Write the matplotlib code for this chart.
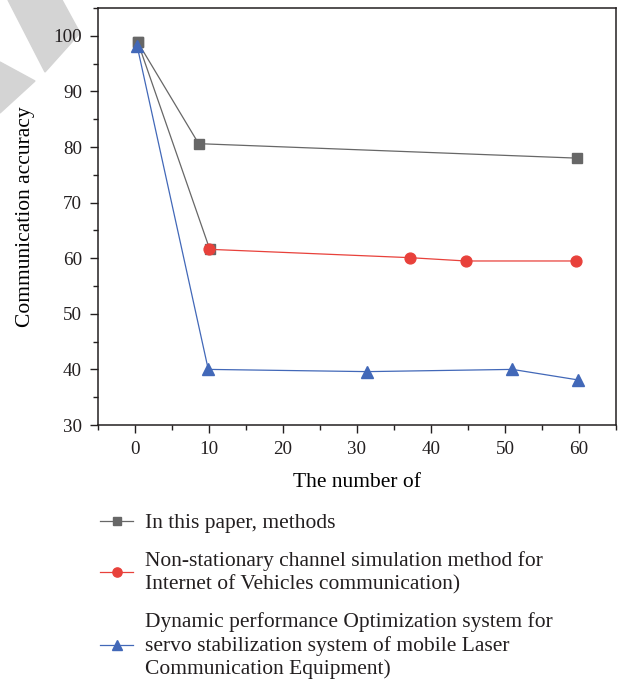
import numpy as np
import matplotlib
matplotlib.use('Agg')
import matplotlib.pyplot as plt
from matplotlib.patches import Polygon

plt.rcParams['font.family'] = ['Liberation Serif', 'DejaVu Serif']
plt.rcParams['font.size'] = 13.7
plt.rcParams['text.color'] = '#231f20'
plt.rcParams['xtick.color'] = '#231f20'
plt.rcParams['ytick.color'] = '#231f20'

# Daten lest av bildet
x_paper = [0.4, 8.6, 59.7]
y_paper = [98.8, 80.6, 78.0]

# grå linje fra start til rød serie (skjult firkant under rød sirkel)
x_link = [0.4, 10.1]
y_link = [98.8, 61.6]

x_ivc = [10.0, 37.1, 44.7, 59.6]
y_ivc = [61.6, 60.1, 59.5, 59.5]

x_laser = [0.3, 9.9, 31.4, 51.0, 59.9]
y_laser = [98.1, 40.0, 39.6, 40.0, 38.1]

labels = ['In this paper, methods',
          'Non-stationary channel simulation method for\nInternet of Vehicles communication)',
          'Dynamic performance Optimization system for\nservo stabilization system of mobile Laser\nCommunication Equipment)']

c_gray = '#676767'
c_red = '#e8413b'
c_blue = '#4268b8'

fig = plt.figure(figsize=(6.2, 6.84), dpi=100)

# vannmerke oppe til venstre
fig.patches.append(Polygon([(8/620, 1-0/684), (62/620, 1-0/684), (80/620, 1-33/684), (45/620, 1-72/684)],
                           closed=True, transform=fig.transFigure, color='#d4d4d4', zorder=-5))
fig.patches.append(Polygon([(0, 1-62/684), (35/620, 1-81/684), (0, 1-113/684)],
                           closed=True, transform=fig.transFigure, color='#d4d4d4', zorder=-5))

ax = fig.add_axes([98/620, 1-425/684, (616-98)/620, (425-8)/684])
ax.patch.set_alpha(0)

ax.plot(x_link, y_link, color=c_gray, lw=0.9, marker='s', ms=6.8, zorder=2)
h1, = ax.plot(x_paper, y_paper, color=c_gray, lw=0.9, marker='s', ms=6.8, zorder=3)
h2, = ax.plot(x_ivc, y_ivc, color=c_red, lw=0.9, marker='o', ms=7.8, zorder=4)
h3, = ax.plot(x_laser, y_laser, color=c_blue, lw=0.9, marker='^', ms=8.5, zorder=5)

ax.set_xlim(-5, 65)
ax.set_ylim(30, 105)
ax.set_xticks(np.arange(0, 61, 10))
ax.set_xticks(np.arange(-5, 66, 5), minor=True)
ax.set_yticks(np.arange(30, 101, 10))
ax.set_yticks(np.arange(35, 106, 5), minor=True)
ax.tick_params(which='major', direction='out', length=5.5, width=1, top=False, right=False, pad=6)
ax.tick_params(which='minor', direction='out', length=3.5, width=1, top=False, right=False)
for s in ax.spines.values():
    s.set_linewidth(1.1)
    s.set_color('#231f20')

ax.set_xlabel('The number of', fontsize=15.5, labelpad=11)
ax.set_ylabel('Communication accuracy', fontsize=15.5, labelpad=13)

leg = fig.legend([h1, h2, h3], labels, loc='upper left', bbox_to_anchor=(100/620, 1-513/684),
                 frameon=False, borderpad=0, borderaxespad=0, handlelength=1.55, handletextpad=0.55,
                 labelspacing=0.85, markerscale=0.85, fontsize=15.5)
for t in leg.get_texts():
    t.set_linespacing(1.23)

plt.savefig('out.png', dpi=100)
